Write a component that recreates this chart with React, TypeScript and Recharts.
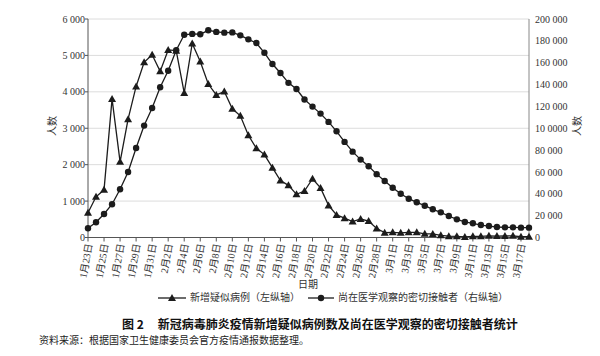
import { LineChart, Line, XAxis, YAxis, CartesianGrid } from 'recharts'

const dates = [
  '1月23日', '1月24日', '1月25日', '1月26日', '1月27日', '1月28日', '1月29日', '1月30日', '1月31日',
  '2月1日', '2月2日', '2月3日', '2月4日', '2月5日', '2月6日', '2月7日', '2月8日', '2月9日', '2月10日',
  '2月11日', '2月12日', '2月13日', '2月14日', '2月15日', '2月16日', '2月17日', '2月18日', '2月19日', '2月20日',
  '2月21日', '2月22日', '2月23日', '2月24日', '2月25日', '2月26日', '2月27日', '2月28日', '2月29日',
  '3月1日', '3月2日', '3月3日', '3月4日', '3月5日', '3月6日', '3月7日', '3月8日', '3月9日', '3月10日',
  '3月11日', '3月12日', '3月13日', '3月14日', '3月15日', '3月16日', '3月17日', '3月18日',
]

// 新增疑似病例 (left axis)
const suspected = [
  680, 1118, 1309, 3806, 2077, 3248, 4148, 4812, 5019,
  4562, 5150, 5130, 3971, 5328, 4833, 4214, 3916, 4008, 3536,
  3342, 2807, 2450, 2277, 1918, 1563, 1432, 1185, 1277, 1614,
  1361, 882, 620, 530, 439, 508, 452, 248, 132,
  141, 129, 143, 143, 102, 99, 60, 36, 31, 17,
  33, 33, 45, 39, 41, 45, 21, 23,
]

// 尚在医学观察的密切接触者 (right axis)
const contacts = [
  8420, 14000, 21556, 30453, 44132, 59990, 81947, 102427, 118478,
  137594, 152700, 171329, 185555, 186354, 186045, 189660, 188183, 187518, 187728,
  185037, 181386, 177984, 169039, 158764, 150539, 141552, 135881, 126363, 119800,
  113400, 105800, 97200, 87500, 78600, 71300, 65200, 58000, 51700,
  45600, 40100, 35500, 32200, 29100, 25800, 23000, 19700, 16600, 14200,
  13000, 11400, 10500, 9600, 9300, 9300, 9000, 9000,
]

const leftTicks = [0, 1000, 2000, 3000, 4000, 5000, 6000]
const leftTickLabels = ['0', '1 000', '2 000', '3 000', '4 000', '5 000', '6 000']
const rightTicks = [0, 20000, 40000, 60000, 80000, 100000, 120000, 140000, 160000, 180000, 200000]
const rightTickLabels = [
  '0', '20 000', '40 000', '60 000', '80 000', '10 0000',
  '120 000', '140 000', '160 000', '180 000', '200 000',
]

const data = dates.map((d, i) => ({ date: d, suspected: suspected[i], contacts: contacts[i] }))

const SERIF = "'Liberation Serif', 'Noto Sans CJK SC', serif"
const INK = '#1c1c1c'

function Triangle(props: any) {
  const { cx, cy, index } = props
  if (cx == null || cy == null) return null
  return <path key={`t-${index}`} d={`M${cx},${cy - 4} L${cx + 4},${cy + 3} L${cx - 4},${cy + 3} Z`} fill={INK} />
}

function Dot(props: any) {
  const { cx, cy, index } = props
  if (cx == null || cy == null) return null
  return <circle key={`c-${index}`} cx={cx} cy={cy} r={3.2} fill={INK} />
}

function DateTick({ x, y, payload }: any) {
  return (
    <text
      x={x + 1}
      y={y}
      transform={`rotate(-80 ${x + 1} ${y})`}
      textAnchor="end"
      dominantBaseline="central"
      fontSize={10}
      fontFamily={SERIF}
      fill="#333"
    >
      {payload.value}
    </text>
  )
}

// plain html caption centred on (cx, cy)
function Caption({ cx, cy, text, rotate }: { cx: number; cy: number; text: string; rotate?: boolean }) {
  return (
    <div
      style={{
        position: 'absolute',
        left: cx,
        top: cy,
        transform: `translate(-50%, -50%)${rotate ? ' rotate(-90deg)' : ''}`,
        fontSize: 10,
        lineHeight: '12px',
        color: '#333',
        whiteSpace: 'nowrap',
      }}
    >
      {text}
    </div>
  )
}

export default function App() {
  return (
    <div style={{ position: 'relative', width: 600, height: 356, background: '#fff', fontFamily: SERIF }}>
      <style>{'body{margin:0}'}</style>
      <LineChart width={600} height={356} data={data} margin={{ top: 19, right: 0, left: 0, bottom: 66 }}>
        <CartesianGrid yAxisId="left" vertical={false} stroke="#dcdcdc" />
        <XAxis
          dataKey="date"
          interval={1}
          height={52.5}
          tickSize={4}
          tickMargin={2}
          tick={<DateTick />}
          axisLine={{ stroke: '#555' }}
          tickLine={{ stroke: '#555' }}
        />
        <YAxis
          yAxisId="left"
          width={88}
          domain={[0, 6000]}
          ticks={leftTicks}
          interval={0}
          tickSize={3}
          tickMargin={0}
          tickFormatter={(v: number) => leftTickLabels[leftTicks.indexOf(v)]}
          tick={{ fontSize: 10, fill: '#333', fontFamily: SERIF }}
          axisLine={{ stroke: '#555' }}
          tickLine={{ stroke: '#555' }}
        />
        <YAxis
          yAxisId="right"
          orientation="right"
          width={71}
          domain={[0, 200000]}
          ticks={rightTicks}
          interval={0}
          tickSize={4}
          tickMargin={2}
          tickFormatter={(v: number) => rightTickLabels[rightTicks.indexOf(v)]}
          tick={{ fontSize: 10, fill: '#333', fontFamily: SERIF, textAnchor: 'start' }}
          axisLine={{ stroke: '#888' }}
          tickLine={false}
        />
        <Line
          yAxisId="left"
          type="linear"
          dataKey="suspected"
          name="新增疑似病例（左纵轴）"
          stroke={INK}
          strokeWidth={1.3}
          dot={Triangle}
          activeDot={false}
          isAnimationActive={false}
        />
        <Line
          yAxisId="right"
          type="linear"
          dataKey="contacts"
          name="尚在医学观察的密切接触者（右纵轴）"
          stroke={INK}
          strokeWidth={1.3}
          dot={Dot}
          activeDot={false}
          isAnimationActive={false}
        />
      </LineChart>

      <Caption cx={53} cy={126} text="人数" rotate />
      <Caption cx={578} cy={126} text="人数" rotate />
      <Caption cx={308} cy={285} text="日期" />

      <div style={{ position: 'absolute', left: 158, top: 291, display: 'flex', alignItems: 'center', fontSize: 10, color: '#333', lineHeight: '14px' }}>
        <svg width={30} height={14}>
          <line x1={0} y1={7} x2={28} y2={7} stroke={INK} strokeWidth={1.3} />
          <path d="M14,3 L18,10 L10,10 Z" fill={INK} />
        </svg>
        <span style={{ marginLeft: 2 }}>新增疑似病例（左纵轴）</span>
        <svg width={28} height={14} style={{ marginLeft: 8 }}>
          <line x1={0} y1={7} x2={26} y2={7} stroke={INK} strokeWidth={1.3} />
          <circle cx={13} cy={7} r={3.2} fill={INK} />
        </svg>
        <span style={{ marginLeft: 2 }}>尚在医学观察的密切接触者（右纵轴）</span>
      </div>

      <div style={{ position: 'absolute', left: 122, top: 316, fontSize: 12, fontWeight: 700, color: '#111', fontFamily: "'Noto Sans CJK SC', sans-serif", lineHeight: '16px', whiteSpace: 'nowrap' }}>
        图 2<span style={{ marginLeft: 14 }}>新冠病毒肺炎疫情新增疑似病例数及尚在医学观察的密切接触者统计</span>
      </div>

      <div style={{ position: 'absolute', left: 39, top: 334, fontSize: 10, color: '#222', lineHeight: '14px', whiteSpace: 'nowrap' }}>
        资料来源：根据国家卫生健康委员会官方疫情通报数据整理。
      </div>
    </div>
  )
}
